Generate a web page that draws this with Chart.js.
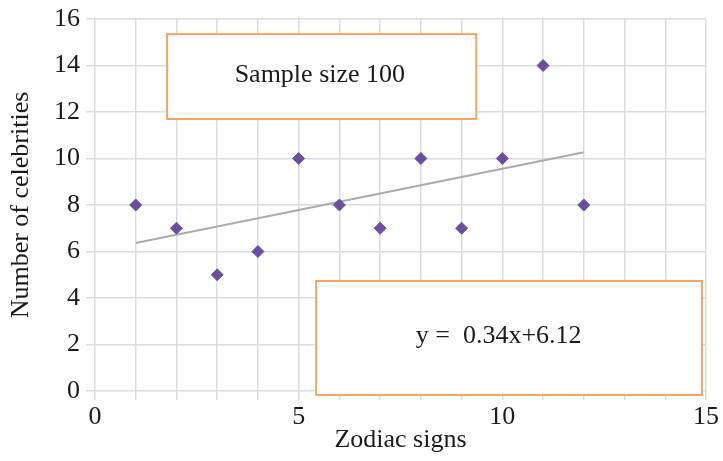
<!DOCTYPE html>
<html>
<head>
<meta charset="utf-8">
<script src="https://cdn.jsdelivr.net/npm/chart.js@4.4.0/dist/chart.umd.min.js"></script>
<style>
  html, body { margin: 0; padding: 0; background: #fff; }
  #wrap { width: 723px; height: 461px; }
</style>
</head>
<body>
<div id="wrap"><canvas id="chart" width="723" height="461"></canvas></div>
<script>
// zodiac sign index and celebrity counts
const signs = [1, 2, 3, 4, 5, 6, 7, 8, 9, 10, 11, 12];
const counts = [8, 7, 5, 6, 10, 8, 7, 10, 7, 10, 14, 8];
// trend line ends, as drawn
const trendX = [1, 12];
const trendY = [6.37, 10.27];
const xTicks = [0, 5, 10, 15];
const yTicks = [0, 2, 4, 6, 8, 10, 12, 14, 16];

// text boxes in data units
const boxSample = {text: 'Sample size 100', x1: 1.77, x2: 9.36, y1: 15.35, y2: 11.7, tx: 5.52, ty: 13.59};
const boxEq = {text: 'y =  0.34x+6.12', x1: 5.43, x2: 14.9, y1: 4.73, y2: -0.17, tx: 9.91, ty: 2.37};

const serif = '"Liberation Serif", "Times New Roman", serif';

const boxPlugin = {
    id: 'boxes',
    afterDatasetsDraw(chart) {
        const ctx = chart.ctx, xs = chart.scales.x, ys = chart.scales.y;
        [boxSample, boxEq].forEach(b => {
            const l = xs.getPixelForValue(b.x1), r = xs.getPixelForValue(b.x2);
            const t = ys.getPixelForValue(b.y1), bt = ys.getPixelForValue(b.y2);
            ctx.save();
            ctx.fillStyle = '#fff';
            ctx.fillRect(l, t, r - l, bt - t);
            ctx.strokeStyle = '#f4a460';
            ctx.lineWidth = 2;
            ctx.strokeRect(l, t, r - l, bt - t);
            ctx.fillStyle = '#1a1a1a';
            ctx.font = '26px ' + serif;
            ctx.textAlign = 'center';
            ctx.textBaseline = 'middle';
            ctx.fillText(b.text, xs.getPixelForValue(b.tx), ys.getPixelForValue(b.ty));
            ctx.restore();
        });
    }
};

const points = signs.map((s, i) => ({x: s, y: counts[i]}));
const trend = trendX.map((s, i) => ({x: s, y: trendY[i]}));

new Chart(document.getElementById('chart'), {
    type: 'scatter',
    data: {
        datasets: [
            {data: trend, showLine: true, borderColor: '#ababab', borderWidth: 2, pointRadius: 0, order: 2},
            {data: points, pointStyle: 'rectRot', pointRadius: 6, backgroundColor: '#6b4f9f', borderColor: '#6b4f9f', order: 1}
        ]
    },
    options: {
        responsive: false,
        animation: false,
        layout: {padding: {left: 0, right: 17, top: 19, bottom: 0}},
        plugins: {legend: {display: false}, tooltip: {enabled: false}},
        scales: {
            x: {
                type: 'linear', min: 0, max: 15,
                afterBuildTicks(axis) {
                    const t = [];
                    for (let v = 0; v <= 15; v++) t.push({value: v});
                    axis.ticks = t;
                },
                afterFit(axis) { axis.height = 70; },
                grid: {color: '#dcdcdc', lineWidth: 1.5, tickLength: 9},
                border: {display: false},
                ticks: {
                    autoSkip: false, maxRotation: 0, padding: 2, color: '#1a1a1a',
                    font: {family: serif, size: 26},
                    callback: v => xTicks.includes(v) ? String(v) : ''
                },
                title: {display: true, text: 'Zodiac signs', color: '#1a1a1a', font: {family: serif, size: 26}, padding: {top: 0, bottom: 5}}
            },
            y: {
                type: 'linear', min: 0, max: 16,
                afterBuildTicks(axis) { axis.ticks = yTicks.map(v => ({value: v})); },
                afterFit(axis) { axis.width = 95; },
                grid: {color: '#dcdcdc', lineWidth: 1.5, tickLength: 9},
                border: {display: false},
                ticks: {padding: 6, color: '#1a1a1a', font: {family: serif, size: 26, lineHeight: 1}},
                title: {display: true, text: 'Number of celebrities', color: '#1a1a1a', font: {family: serif, size: 26}, padding: {top: 6, bottom: 0}}
            }
        }
    },
    plugins: [boxPlugin]
});
</script>
</body>
</html>
